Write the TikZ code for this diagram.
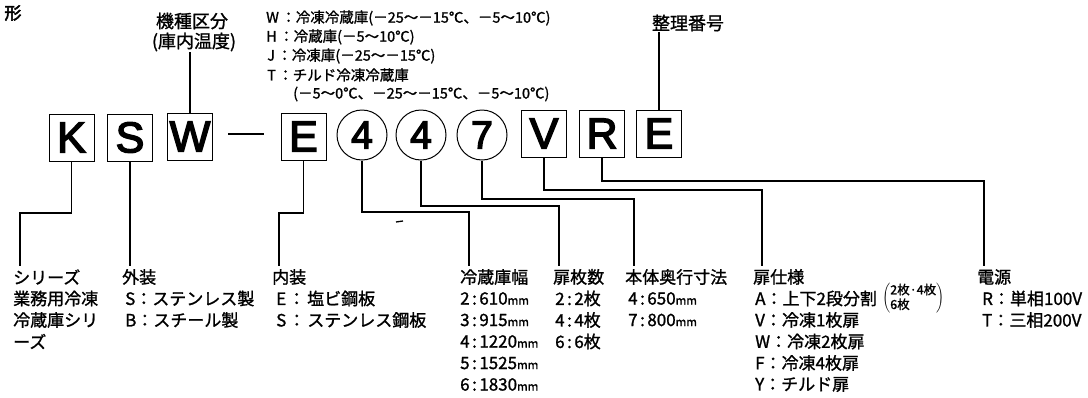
\documentclass[tikz,border=0pt]{standalone}
\usepackage{fontspec}
\setmainfont[FakeBold=1.2]{Noto Sans CJK JP}
\newfontfamily\boxfont[FakeBold=3.5]{Liberation Sans}
\newfontfamily\boldcjk[FakeBold=3]{Noto Sans CJK JP}
\newcommand{\mmu}{{\fontsize{11.5}{11.5}\selectfont mm}}
\newcommand{\cln}{\hspace{2.5pt}:\hspace{2.5pt}}
\begin{document}
\begin{tikzpicture}[x=1pt,y=-1pt,
  lbl/.style={inner sep=0pt, anchor=west, font=\fontsize{17}{17}\selectfont},
  lst/.style={inner sep=0pt, anchor=west, font=\fontsize{14.5}{14.5}\selectfont},
  head/.style={inner sep=0pt, font=\fontsize{18}{18}\selectfont},
  letterbox/.style={draw, line width=1pt, minimum width=45pt, minimum height=47pt, inner sep=0pt, font=\boxfont\fontsize{43}{43}\selectfont},
  digit/.style={draw, circle, line width=1pt, minimum size=50pt, inner sep=0pt, font=\boxfont\fontsize{39}{39}\selectfont},
  conn/.style={line width=1.1pt}]
\useasboundingbox (0,0) rectangle (1088,397);

% title fragment
\node[inner sep=0pt, font=\boldcjk\fontsize{17}{17}\selectfont] (kei) at (13,13) {形};

% code boxes
\node[letterbox] (K) at (71.5,137.5) {K};
\node[letterbox] (S) at (130,137.5) {S};
\node[letterbox] (W) at (190,136.5) {W};
\draw[line width=2pt] (228,134) -- (264,134);
\node[letterbox] (E) at (303.5,136.5) {E};
\node[digit] (c4a) at (362,135) {4};
\node[digit] (c4b) at (421,135) {4};
\node[digit] (c7) at (482,135) {7};
\node[letterbox] (V) at (544,133.5) {V};
\node[letterbox] (R) at (602,133.5) {R};
\node[letterbox] (E2) at (659,133.5) {E};

% top labels
\node[head] (kishu) at (192,21) {機種区分};
\node[head] (konai) at (194,42) {(庫内温度)};
\node[head] (seiri) at (688,23) {整理番号};

\node[lst] (lw) at (266,18) {W\,：冷凍冷蔵庫(－25〜－15℃、－5〜10℃)};
\node[lst] (lh) at (266,37) {H\,：冷蔵庫(－5〜10℃)};
\node[lst] (lj) at (267,56) {J\,：冷凍庫(－25〜－15℃)};
\node[lst] (lt) at (267,75) {T\,：チルド冷凍冷蔵庫};
\node[lst] (lt2) at (293,94) {(－5〜0℃、－25〜－15℃、－5〜10℃)};

% connectors upward
\draw[conn] (W.north) -- (W.north |- konai.south);
\draw[conn] (E2.north) -- (E2.north |- seiri.south);

% bend points and ends
\coordinate (kb) at (20,213);   \coordinate (ke) at (20,266);
\coordinate (se) at (130,266);
\coordinate (eb) at (279,213);  \coordinate (ee) at (279,266);
\coordinate (ab) at (469,212);  \coordinate (ae) at (469,266);
\coordinate (bb) at (559,206);  \coordinate (be) at (559,266);
\coordinate (sb) at (634,199);  \coordinate (sv) at (634,266);
\coordinate (vb) at (762,190);  \coordinate (ve) at (762,266);
\coordinate (rb) at (984,181);  \coordinate (re) at (984,266);

\draw[conn] (K.south) |- (kb) -- (ke);
\draw[conn] (S.south) -- (se);
\draw[conn] (E.south) |- (eb) -- (ee);
\draw[conn] (c4a.south) |- (ab) -- (ae);
\draw[conn] (c4b.south) |- (bb) -- (be);
\draw[conn] (c7.south) |- (sb) -- (sv);
\draw[conn] (V.south) |- (vb) -- (ve);
\draw[conn] (R.south) |- (rb) -- (re);

% stray mark
\draw[line width=1.3pt] (396,222) -- (403,221);

% bottom columns
\node[lbl] (c1a) at (13,277) {シリーズ};
\node[lbl] (c1b) at (13,298.5) {業務用冷凍};
\node[lbl] (c1c) at (13,320) {冷蔵庫シリ};
\node[lbl] (c1d) at (13,341.5) {ーズ};

\node[lbl] (c2a) at (122,277) {外装};
\node[lbl] (c2b) at (125,298.5) {S：ステンレス製};
\node[lbl] (c2c) at (125,320) {B：スチール製};

\node[lbl] (c3a) at (272,277) {内装};
\node[lbl] (c3b) at (276,298.5) {E\hspace{2pt}：\hspace{2pt}塩ビ鋼板};
\node[lbl] (c3c) at (276,320) {S\hspace{2pt}：\hspace{2pt}ステンレス鋼板};

\node[lbl] (c4h) at (460,277) {冷蔵庫幅};
\node[lbl] (c4i) at (460,298.5) {2\cln 610\mmu};
\node[lbl] (c4j) at (460,320) {3\cln 915\mmu};
\node[lbl] (c4k) at (460,341.5) {4\cln 1220\mmu};
\node[lbl] (c4l) at (460,363) {5\cln 1525\mmu};
\node[lbl] (c4m) at (460,384.5) {6\cln 1830\mmu};

\node[lbl] (c5h) at (553,277) {扉枚数};
\node[lbl] (c5i) at (555,298.5) {2\cln 2枚};
\node[lbl] (c5j) at (555,320) {4\cln 4枚};
\node[lbl] (c5k) at (555,341.5) {6\cln 6枚};

\node[lbl] (c6h) at (625,277) {本体奥行寸法};
\node[lbl] (c6i) at (628,298.5) {4\cln 650\mmu};
\node[lbl] (c6j) at (628,320) {7\cln 800\mmu};

\node[lbl] (c7h) at (753,277) {扉仕様};
\node[lbl] (c7i) at (755,298.5) {A：上下2段分割};
\node[inner sep=0pt, anchor=west] (c7p) at (c7i.east) {\hspace{5pt}$\left(\vcenter{\hbox{\fontsize{12.5}{14}\selectfont\begin{tabular}{@{}l@{}}2枚·4枚\\6枚\end{tabular}}}\right)$};
\node[lbl] (c7j) at (755,320) {V：冷凍1枚扉};
\node[lbl] (c7k) at (755,341.5) {W：冷凍2枚扉};
\node[lbl] (c7l) at (755,363) {F：冷凍4枚扉};
\node[lbl] (c7m) at (755,384.5) {Y：チルド扉};

\node[lbl] (c8h) at (977,277) {電源};
\node[lbl] (c8i) at (982,298.5) {R：単相100V};
\node[lbl] (c8j) at (982,320) {T：三相200V};
\end{tikzpicture}
\end{document}
